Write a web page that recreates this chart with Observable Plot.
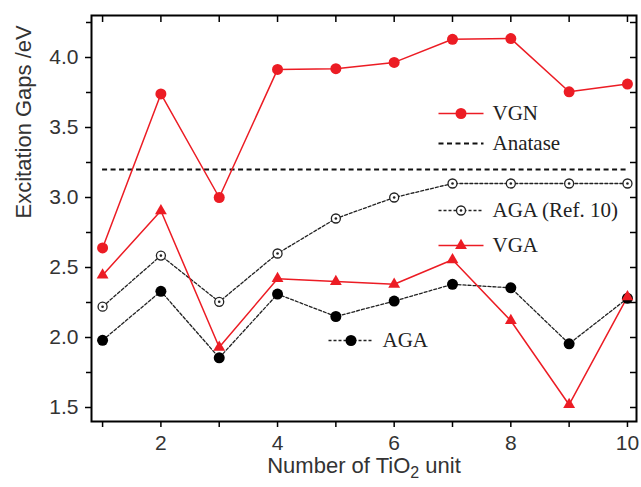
<!DOCTYPE html>
<html>
<head>
<meta charset="utf-8">
<script src="https://cdn.jsdelivr.net/npm/d3@7"></script>
<script src="https://cdn.jsdelivr.net/npm/@observablehq/plot@0.6"></script>
<style>
  html, body { margin: 0; padding: 0; background: #fff; }
  #chart svg { display: block; }
</style>
</head>
<body>
<div id="chart"></div>
<script>
// ---- data ----
const units = [1, 2, 3, 4, 5, 6, 7, 8, 9, 10];
const vgn    = [2.64, 3.74, 3.00, 3.915, 3.92, 3.965, 4.13, 4.135, 3.755, 3.81];
const agaRef = [2.22, 2.585, 2.255, 2.60, 2.85, 3.00, 3.10, 3.10, 3.10, 3.10];
const vga    = [2.445, 2.905, 1.93, 2.42, 2.40, 2.38, 2.555, 2.12, 1.52, 2.29];
const aga    = [1.98, 2.33, 1.855, 2.31, 2.15, 2.26, 2.38, 2.355, 1.955, 2.28];
const anatase = 3.2;
const yMajorTicks = [1.5, 2.0, 2.5, 3.0, 3.5, 4.0];
const yMinorTicks = [1.75, 2.25, 2.75, 3.25, 3.75, 4.25];
const xTicks = units;
const seriesNames = ["VGN", "Anatase", "AGA (Ref. 10)", "VGA", "AGA"];
const xLabel = "Number of TiO2 unit";
const yLabel = "Excitation Gaps /eV";

// ---- layout ----
const W = 641, H = 487, mL = 91, mR = 5, mT = 15, mB = 66;
const innerW = W - mL - mR, innerH = H - mT - mB;
const xDom = [0.81, 10.155], yDom = [1.4, 4.3];
const fx = px => xDom[0] + px / innerW * (xDom[1] - xDom[0]);
const fy = py => yDom[1] - py / innerH * (yDom[1] - yDom[0]);
const RED = "#ec1c24";
const DASH_ANATASE = "5,3.5", DASH_AGA = "3,2";

const rows = (name, vals) => units.map((u, i) => ({series: name, x: u, y: vals[i]}));
const vgnRows = rows("VGN", vgn);
const agaRefRows = rows("AGA (Ref. 10)", agaRef);
const vgaRows = rows("VGA", vga);
const agaRows = rows("AGA", aga);

// legend layout (frame-relative pixels)
const legend = [
  {label: seriesNames[0], x0: 347, x1: 392, y: 98,  kind: "red",    mark: "dot"},
  {label: seriesNames[1], x0: 347, x1: 392, y: 128, kind: "anatase", mark: null},
  {label: seriesNames[2], x0: 347, x1: 392, y: 195, kind: "aga",    mark: "ring"},
  {label: seriesNames[3], x0: 347, x1: 392, y: 230, kind: "red",    mark: "tri"},
  {label: seriesNames[4], x0: 237, x1: 282, y: 325, kind: "aga",    mark: "black"}
].map(d => ({...d, X0: fx(d.x0), X1: fx(d.x1), XM: fx((d.x0 + d.x1) / 2), XT: fx(d.x1 + 9), Y: fy(d.y)}));
const legLink = (kind, opts) => Plot.link(legend.filter(d => d.kind === kind), {x1: "X0", x2: "X1", y1: "Y", y2: "Y", ...opts});

const marks = [
  // axes
  Plot.axisY({anchor: "left", ticks: yMajorTicks, tickSize: 6, tickPadding: 7, tickFormat: d3.format(".1f"),
              label: null, stroke: "#000", fill: "#333", strokeWidth: 1.5}),
  Plot.axisY({anchor: "left", ticks: yMinorTicks.filter(t => t < 4.3), tickSize: 5, tickFormat: () => "",
              label: null, stroke: "#000", strokeWidth: 1.5}),
  Plot.axisX({anchor: "bottom", ticks: xTicks, tickSize: 6, tickPadding: 8,
              tickFormat: d => d % 2 === 0 ? String(d) : "", label: null, stroke: "#000", fill: "#333", strokeWidth: 1.5}),
  // inward ticks on top and right
  Plot.ruleX(xTicks, {x: d => d, insetBottom: innerH - 7, stroke: "#000", strokeWidth: 1.5}),
  Plot.ruleY(yMajorTicks.concat(yMinorTicks.filter(t => t < 4.3)), {y: d => d, insetLeft: innerW - 6, stroke: "#000", strokeWidth: 1.5}),
  // anatase reference
  Plot.ruleY([anatase], {y: d => d, x1: units[0], x2: units[units.length - 1], stroke: "#111", strokeWidth: 2, strokeDasharray: DASH_ANATASE}),
  // series lines
  Plot.line(agaRefRows, {x: "x", y: "y", stroke: "#222", strokeWidth: 1.3, strokeDasharray: DASH_AGA}),
  Plot.line(agaRows, {x: "x", y: "y", stroke: "#222", strokeWidth: 1.3, strokeDasharray: DASH_AGA}),
  Plot.line(vgnRows, {x: "x", y: "y", stroke: RED, strokeWidth: 1.5}),
  Plot.line(vgaRows, {x: "x", y: "y", stroke: RED, strokeWidth: 1.5}),
  // markers
  Plot.dot(agaRefRows, {x: "x", y: "y", r: 4.5, fill: "#fff", stroke: "#222", strokeWidth: 1.3}),
  Plot.dot(agaRefRows, {x: "x", y: "y", r: 1.3, fill: "#222"}),
  Plot.dot(agaRows, {x: "x", y: "y", r: 5.5, fill: "#000"}),
  Plot.dot(vgnRows, {x: "x", y: "y", r: 5.5, fill: RED}),
  Plot.dot(vgaRows, {x: "x", y: "y", r: 4.4, symbol: "triangle", fill: RED}),
  // legend
  legLink("red", {stroke: RED, strokeWidth: 1.5}),
  legLink("anatase", {stroke: "#111", strokeWidth: 2, strokeDasharray: DASH_ANATASE}),
  legLink("aga", {stroke: "#222", strokeWidth: 1.3, strokeDasharray: DASH_AGA}),
  Plot.dot(legend.filter(d => d.mark === "dot"), {x: "XM", y: "Y", r: 5.5, fill: RED}),
  Plot.dot(legend.filter(d => d.mark === "tri"), {x: "XM", y: "Y", r: 4.4, symbol: "triangle", fill: RED}),
  Plot.dot(legend.filter(d => d.mark === "black"), {x: "XM", y: "Y", r: 5.5, fill: "#000"}),
  Plot.dot(legend.filter(d => d.mark === "ring"), {x: "XM", y: "Y", r: 4.5, fill: "#fff", stroke: "#222", strokeWidth: 1.3}),
  Plot.dot(legend.filter(d => d.mark === "ring"), {x: "XM", y: "Y", r: 1.3, fill: "#222"}),
  Plot.text(legend, {x: "XT", y: "Y", text: "label", textAnchor: "start", fontFamily: "Liberation Serif, Times New Roman, serif",
                     fontSize: 21, fill: "#222"}),
  // axis titles
  Plot.text([yLabel], {text: d => d, frameAnchor: "left", dx: -68, rotate: -90, fontSize: 22, fill: "#333"}),
  Plot.text([xLabel], {text: d => d, frameAnchor: "bottom", dy: 51, fontSize: 22, fill: "#333"}),
  // frame
  Plot.frame({stroke: "#000", strokeWidth: 2})
];

const chart = Plot.plot({
  width: W, height: H,
  marginLeft: mL, marginRight: mR, marginTop: mT, marginBottom: mB,
  x: {domain: xDom},
  y: {domain: yDom},
  style: {fontFamily: "Liberation Sans, Arial, sans-serif", fontSize: "21px", background: "#fff", color: "#333"},
  marks
});
document.getElementById("chart").appendChild(chart);

// subscript the "2" in TiO2
d3.select(chart).selectAll("text").each(function() {
  if (this.textContent === xLabel) {
    const t = d3.select(this);
    t.text(null);
    t.append("tspan").text("Number of TiO");
    t.append("tspan").attr("dy", 5).attr("font-size", 16).text("2");
    t.append("tspan").attr("dy", -5).text(" unit");
  }
});
</script>
</body>
</html>
